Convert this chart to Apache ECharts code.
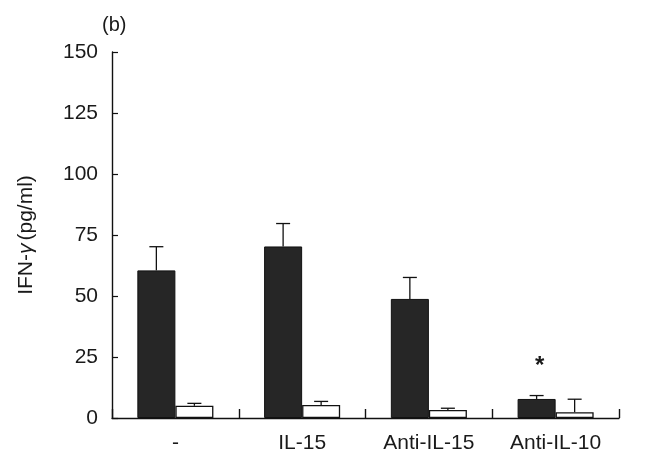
<!DOCTYPE html>
<html><head><meta charset="utf-8">
<script src="https://cdn.jsdelivr.net/npm/echarts@6/dist/echarts.min.js"></script>
<style>html,body{margin:0;padding:0;background:#fff}#c{width:662px;height:472px}</style>
</head><body><div id="c"></div>
<script>
var categories = ['-', 'IL-15', 'Anti-IL-15', 'Anti-IL-10'];
var blackValues = [60.5, 70.3, 48.8, 7.8];
var blackErrTop = [70.2, 79.7, 57.6, 9.2];
var whiteValues = [5.0, 5.3, 3.3, 2.4];
var whiteErrTop = [6.0, 6.8, 4.0, 7.7];
var yTicks = [0, 25, 50, 75, 100, 125, 150];
var starCategory = 3;
var starValue = 23.5;

var FONT = 'Liberation Sans, Arial, sans-serif';
var TXT = '#1a1a1a';
var BAR_FRAC = 0.30;
var FS = 21;

function errData(vals, tops, off) {
  return vals.map(function (v, i) { return [i, v, tops[i], off]; });
}

function renderErr(params, api) {
  var idx = api.value(0);
  var base = api.coord([idx, api.value(1)]);
  var top = api.coord([idx, api.value(2)]);
  var band = api.size([1, 0])[0];
  var x = base[0] + api.value(3) * band * BAR_FRAC / 2;
  var cap = 7;
  var st = { stroke: '#111', lineWidth: 1.3 };
  return {
    type: 'group',
    children: [
      { type: 'line', shape: { x1: x, y1: base[1], x2: x, y2: top[1] }, style: st },
      { type: 'line', shape: { x1: x - cap, y1: top[1], x2: x + cap, y2: top[1] }, style: st }
    ]
  };
}

function renderStar(params, api) {
  var p = api.coord([api.value(0), api.value(1)]);
  var band = api.size([1, 0])[0];
  return {
    type: 'text',
    style: {
      text: '*', x: p[0] - band * BAR_FRAC / 2 + 3, y: p[1] + 6,
      align: 'center', verticalAlign: 'middle',
      font: 'bold 24px ' + FONT, fill: TXT
    }
  };
}

var chart = echarts.init(document.getElementById('c'));
chart.setOption({
  animation: false,
  backgroundColor: '#fff',
  title: {
    text: '(b)', left: 97, top: 10,
    textStyle: { fontFamily: FONT, fontSize: 20, fontWeight: 'normal', color: TXT }
  },
  grid: { left: 112, right: 43, top: 52, bottom: 54 },
  xAxis: {
    type: 'category', data: categories,
    axisLine: { lineStyle: { color: '#111', width: 1.4 } },
    axisTick: { show: true, inside: true, length: 9, alignWithLabel: false, lineStyle: { color: '#111', width: 1.4 } },
    axisLabel: { fontFamily: FONT, fontSize: FS, color: TXT, margin: 15 }
  },
  yAxis: {
    type: 'value', min: 0, max: 150, interval: 25,
    name: '{n|IFN-}{g|γ}{n|(pg/ml)}', nameLocation: 'middle', nameGap: 75, nameRotate: 90,
    nameTextStyle: {
      rich: {
        n: { fontFamily: FONT, fontSize: FS, color: TXT },
        g: { fontFamily: FONT, fontSize: FS, color: TXT, fontStyle: 'italic', padding: [0, 3, 0, 0] }
      }
    },
    axisLine: { show: true, lineStyle: { color: '#111', width: 1.4 } },
    axisTick: { show: true, inside: true, length: 6, lineStyle: { color: '#111', width: 1.2 } },
    axisLabel: {
      fontFamily: FONT, fontSize: FS, color: TXT, margin: 14,
      formatter: function (v) { return yTicks.indexOf(v) >= 0 ? String(v) : ''; }
    },
    splitLine: { show: false }
  },
  series: [
    {
      type: 'bar', data: blackValues, barWidth: (BAR_FRAC * 100) + '%', barGap: '0%',
      itemStyle: { color: '#262626', borderColor: '#111', borderWidth: 1 }, z: 2
    },
    {
      type: 'bar', data: whiteValues, barWidth: (BAR_FRAC * 100) + '%', barGap: '0%',
      itemStyle: { color: '#ffffff', borderColor: '#111', borderWidth: 1.3 }, z: 2
    },
    {
      type: 'custom', renderItem: renderErr, data: errData(blackValues, blackErrTop, -1),
      encode: { x: 0, y: [1, 2] }, z: 3
    },
    {
      type: 'custom', renderItem: renderErr, data: errData(whiteValues, whiteErrTop, 1),
      encode: { x: 0, y: [1, 2] }, z: 3
    },
    {
      type: 'custom', renderItem: renderStar, data: [[starCategory, starValue]],
      encode: { x: 0, y: 1 }, z: 4
    }
  ]
});
</script>
</body></html>
